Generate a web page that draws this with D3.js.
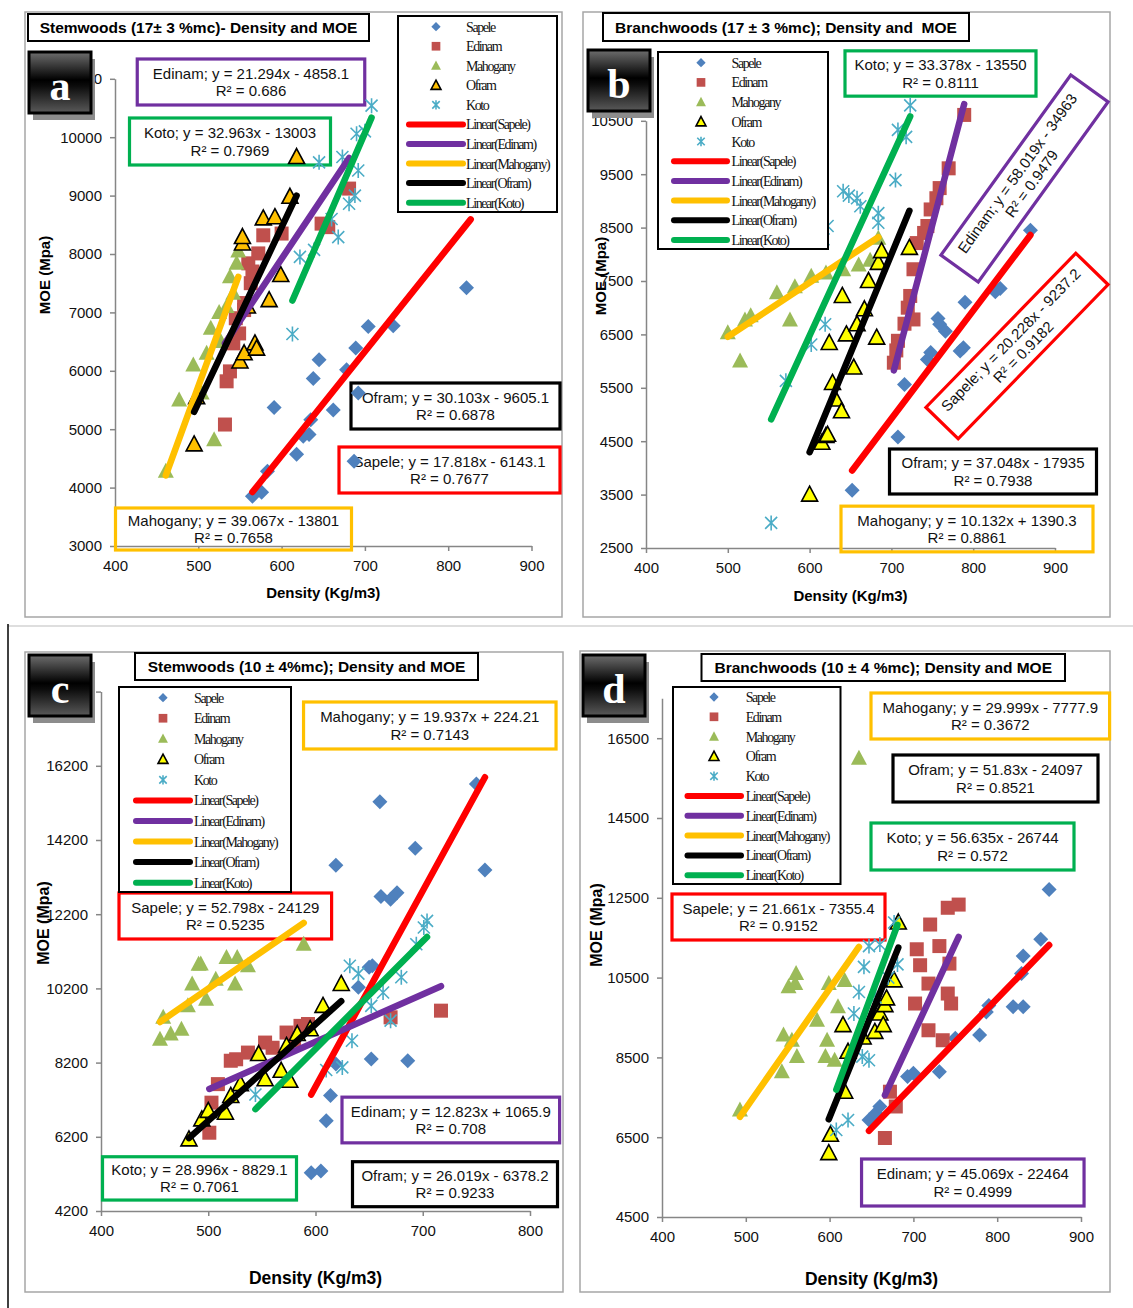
<!DOCTYPE html>
<html>
<head>
<meta charset="utf-8">
<title>Density and MOE</title>
<script src="https://d3js.org/d3.v7.min.js"></script>
<style>
  body { margin: 0; background: #fff; }
  svg { display: block; font-family: "Liberation Sans", Arial, sans-serif; }
  .pre { white-space: pre; }
</style>
</head>
<body>
<svg id="chart" width="1133" height="1308"></svg>
<script>
var species = ["Sapele", "Edinam", "Mahogany", "Ofram", "Koto"];

// a : stemwoods, 17 +- 3 %mc
var aSapele = [[565,3850],[576,3920],[583,4280],[591,5370],[618,4570],[626,4880],[633,4910],[635,5160],[638,5870],[645,6190],[662,5330],[678,6020],[687,4450],[689,6390],[692,5620],[704,6760],[734,6770],[822,7420],[827,10210]];
var aEdinam = [[532,5080],[534,5820],[538,5990],[542,6470],[545,6900],[549,6640],[555,7040],[555,7160],[560,7840],[563,7500],[565,7700],[572,8010],[578,8320],[600,8350],[648,8520],[656,8460],[681,9120]];
var aMahogany = [[461,4280],[477,5500],[494,6100],[504,5620],[510,6300],[515,6730],[519,4820],[525,7000],[527,6500],[534,7100],[538,7610],[542,7330],[546,7840],[548,8050]];
var aOfram = [[495,4740],[498,5550],[550,6160],[555,6300],[568,6470],[570,6380],[559,7100],[585,7210],[599,7640],[553,8180],[553,8290],[578,8610],[592,8630],[610,8980],[618,9660]];
var aKoto = [[613,6630],[622,7950],[639,8070],[645,9570],[660,8600],[668,8290],[673,9660],[681,8860],[688,9000],[690,10060],[692,9430],[700,10100],[708,10540]];
var aSlope = [17.818, 21.294, 39.067, 30.103, 32.963];
var aIntercept = [-6143.1, -4858.1, -13801, -9605.1, -13003];
var aR2 = [0.7677, 0.686, 0.7658, 0.6878, 0.7969];
var aXTicks = [400, 500, 600, 700, 800, 900];
var aYTicks = [3000, 4000, 5000, 6000, 7000, 8000, 9000, 10000, 11000];

// b : branchwoods, 17 +- 3 %mc
var bSapele = [[652,3580],[708,4580],[716,5560],[744,6030],[748,6160],[757,6800],[759,6690],[766,6560],[784,6190],[788,6250],[790,7100],[827,7300],[833,7360],[870,8450]];
var bEdinam = [[703,5970],[706,6200],[708,6380],[716,6700],[727,6780],[720,7000],[723,7220],[727,7720],[731,8210],[740,8400],[744,8530],[748,8840],[755,9050],[759,9240],[770,9610],[789,10610]];
var bMahogany = [[500,6530],[515,6000],[521,6770],[528,6850],[560,7280],[576,6770],[582,7390],[602,7590],[620,7650],[641,7710],[660,7800],[674,7890],[684,8300]];
var bOfram = [[600,3500],[615,4470],[620,4600],[622,4620],[632,5280],[628,5590],[639,5060],[654,5880],[624,6340],[645,6500],[658,6690],[667,6970],[682,6440],[640,7220],[672,7500],[684,7840],[688,8060],[722,8120]];
var bKoto = [[553,2970],[571,5630],[602,6310],[619,6690],[617,8280],[622,8530],[641,9180],[648,9100],[658,9050],[662,8900],[684,8770],[684,8590],[705,9390],[708,10330],[718,10200],[723,10790]];
var bSlope = [20.228, 58.019, 10.132, 37.048, 33.378];
var bIntercept = [-9237.2, -34963, 1390.3, -17935, -13550];
var bR2 = [0.9182, 0.9479, 0.8861, 0.7938, 0.8111];
var bXTicks = [400, 500, 600, 700, 800, 900];
var bYTicks = [2500, 3500, 4500, 5500, 6500, 7500, 8500, 9500, 10500];

// c : stemwoods, 10 +- 4 %mc
var cSapele = [[596,5230],[605,5280],[610,6630],[614,7310],[619,8160],[619,13520],[640,10230],[650,10770],[652,8300],[653,10810],[660,15230],[661,12680],[670,12600],[676,12780],[686,8250],[693,13980],[750,15710],[758,13390]];
var cEdinam = [[501,6310],[503,7120],[509,7620],[521,8250],[526,8290],[537,8470],[553,8740],[560,8600],[573,9010],[580,8800],[586,9190],[593,9240],[670,9420],[717,9600]];
var cMahogany = [[455,8830],[458,9420],[465,8970],[475,9100],[481,9730],[485,10320],[491,10850],[493,10860],[498,9910],[507,10450],[517,11030],[525,10320],[527,11030],[537,10810],[589,11390]];
var cOfram = [[482,6130],[494,6670],[500,6900],[516,6850],[521,7300],[530,7620],[547,8430],[553,7750],[568,7980],[576,7710],[573,8650],[583,8970],[595,9100],[607,9730],[624,10320]];
var cKoto = [[544,7340],[610,8000],[625,8070],[634,8790],[632,10810],[640,10600],[652,9730],[663,10090],[670,9330],[680,10500],[694,11390],[701,11840],[704,12020]];
var cSlope = [52.798, 12.823, 19.937, 26.019, 28.996];
var cIntercept = [-24129, 1065.9, 224.21, -6378.2, -8829.1];
var cR2 = [0.5235, 0.708, 0.7143, 0.9233, 0.7061];
var cXTicks = [400, 500, 600, 700, 800];
var cYTicks = [4200, 6200, 8200, 10200, 12200, 14200, 16200, 18200];

// d : branchwoods, 10 +- 4 %mc
var dSapele = [[647,6930],[655,7100],[660,7270],[693,8020],[700,8100],[731,8140],[750,8980],[779,9060],[787,9640],[790,9800],[819,9770],[829,10600],[831,9770],[831,11040],[852,11460],[862,12710]];
var dEdinam = [[666,6480],[672,7640],[679,7270],[702,9850],[704,11210],[708,10810],[718,10350],[718,9180],[720,11830],[731,11290],[735,8930],[741,10100],[741,12250],[743,10850],[745,9850],[754,12330]];
var dMahogany = [[493,7180],[543,8140],[545,9060],[555,8930],[561,8520],[551,10270],[559,10350],[560,10600],[585,9430],[597,8930],[595,8520],[599,10350],[606,8430],[610,9770],[618,10430],[635,16000]];
var dOfram = [[599,6100],[601,6560],[618,7640],[616,9310],[622,8640],[640,9000],[654,9140],[660,9600],[664,9310],[666,9810],[668,9980],[677,10430],[682,11880]];
var dKoto = [[608,6680],[622,6930],[629,9600],[635,10140],[639,8520],[641,10770],[647,8430],[647,11290],[655,10000],[660,11330],[670,10500],[677,11880],[681,10830]];
var dSlope = [21.661, 45.069, 29.999, 51.83, 56.635];
var dIntercept = [-7355.4, -22464, -7777.9, -24097, -26744];
var dR2 = [0.9152, 0.4999, 0.3672, 0.8521, 0.572];
var dXTicks = [400, 500, 600, 700, 800, 900];
var dYTicks = [4500, 6500, 8500, 10500, 12500, 14500, 16500];

var titles = ["Stemwoods (17\u00b1 3 %mc)- Density and MOE",
              "Branchwoods (17 \u00b1 3 %mc); Density and  MOE",
              "Stemwoods (10 \u00b1 4%mc); Density and MOE",
              "Branchwoods (10 \u00b1 4 %mc); Density and MOE"];

var markerFill = ["#4F81BD", "#C0504D", "#9BBB59", "#FFFF00", "#4BACC6"];
var lineColor = ["#FF0000", "#7030A0", "#FFC000", "#000000", "#00B050"];

// layout: where each panel sits on the page
var panels = [
  { letter: "a", data: [aSapele, aEdinam, aMahogany, aOfram, aKoto], slope: aSlope, icpt: aIntercept, r2: aR2,
    xTicks: aXTicks, yTicks: aYTicks, xDom: [400, 900], yDom: [3000, 11000],
    xr: [115, 531.5], yr: [546, 78.8], frame: [25, 12, 562, 617], ofram: "#FFC000",
    title: [28, 14, 369, 41], badge: [29, 52], legend: [398, 16, 557, 212, 26.7, 19.55, 436, 409, 463, 466],
    xTitleY: 597.5, yTitleX: 44.5, yTitleY: 275, axFont: 15, yAxFont: 15,
    boxes: [[449.5, 470, 221, 46, 0], [251, 82, 227.5, 46, 0], [233.5, 529, 236, 42, 0], [455.5, 406, 209, 46, 0], [230, 141.5, 201, 47, 0]] },
  { letter: "b", data: [bSapele, bEdinam, bMahogany, bOfram, bKoto], slope: bSlope, icpt: bIntercept, r2: bR2,
    xTicks: bXTicks, yTicks: bYTicks, xDom: [400, 900], yDom: [2500, 10500],
    xr: [646, 1055], yr: [548, 120.8], frame: [583, 12, 1110, 617], ofram: "#FFFF00",
    title: [603, 13, 969, 41], badge: [588, 50], legend: [658, 52, 828, 249, 62.7, 19.7, 701, 674, 727, 731.5],
    xTitleY: 600.5, yTitleX: 601, yTitleY: 276, axFont: 15, yAxFont: 15,
    boxes: [[1017, 346, 215, 45, -45.8], [1024.5, 178.5, 222, 46, -54.2], [967, 529, 252, 45.7, 0], [993, 471.5, 207, 45, 0], [940.5, 73.5, 191, 45.3, 0]] },
  { letter: "c", data: [cSapele, cEdinam, cMahogany, cOfram, cKoto], slope: cSlope, icpt: cIntercept, r2: cR2,
    xTicks: cXTicks, yTicks: cYTicks, xDom: [400, 800], yDom: [4200, 18200],
    xr: [101, 530], yr: [1211, 691.6], frame: [25, 652, 563, 1292], ofram: "#FFFF00",
    title: [135, 653, 478, 680], badge: [29, 655], legend: [119, 687, 291, 892, 697.7, 20.55, 163, 136, 190, 194],
    xTitleY: 1284, yTitleX: 44, yTitleY: 923, axFont: 17.5, yAxFont: 16,
    boxes: [[225.3, 916, 212.6, 46, 0], [450.8, 1120, 217.6, 45.7, 0], [429.8, 725.5, 252.5, 47, 0], [455, 1184.2, 205, 45, 0], [199.5, 1178.4, 194, 43.3, 0]] },
  { letter: "d", data: [dSapele, dEdinam, dMahogany, dOfram, dKoto], slope: dSlope, icpt: dIntercept, r2: dR2,
    xTicks: dXTicks, yTicks: dYTicks, xDom: [400, 900], yDom: [4500, 17500],
    xr: [662, 1081], yr: [1217, 698.3], frame: [580, 651, 1110, 1292], ofram: "#FFFF00",
    title: [701.5, 654, 1065, 681], badge: [583, 655], legend: [673, 687, 840.5, 884, 697, 19.8, 714, 687.5, 741, 745.7],
    xTitleY: 1285, yTitleX: 597, yTitleY: 925, axFont: 17.5, yAxFont: 16,
    boxes: [[778.5, 917, 213, 46, 0], [972.8, 1182.5, 222.5, 47, 0], [990.3, 716, 238.6, 46, 0], [995.5, 778.5, 205, 47, 0], [972.5, 846.5, 203, 47, 0]] }
];

var svg = d3.select("#chart");

var defs = svg.append("defs");
var grad = defs.append("linearGradient").attr("id", "badgeGrad")
  .attr("x1", 0).attr("y1", 0).attr("x2", 0).attr("y2", 1);
grad.append("stop").attr("offset", "0%").attr("stop-color", "#6e6e6e");
grad.append("stop").attr("offset", "46%").attr("stop-color", "#000");
grad.append("stop").attr("offset", "56%").attr("stop-color", "#0c0c0c");
grad.append("stop").attr("offset", "100%").attr("stop-color", "#5a5a5a");

// page lines around the lower half
svg.append("line").attr("x1", 8).attr("x2", 1133).attr("y1", 626).attr("y2", 626)
  .attr("stroke", "#bdbdbd").attr("stroke-width", 1);
svg.append("line").attr("x1", 8).attr("x2", 8).attr("y1", 624).attr("y2", 1308)
  .attr("stroke", "#000").attr("stroke-width", 1.5);

function marker(g, i, cx, cy, s, ofram) {
  if (i === 0) {
    g.append("path").attr("d", "M0,-7.5L7.5,0L0,7.5L-7.5,0Z")
      .attr("transform", "translate(" + cx + "," + cy + ") scale(" + s + ")").attr("fill", markerFill[0]);
  } else if (i === 1) {
    g.append("rect").attr("x", cx - 7 * s).attr("y", cy - 7 * s).attr("width", 14 * s).attr("height", 14 * s)
      .attr("fill", markerFill[1]);
  } else if (i === 2) {
    g.append("path").attr("d", "M0,-8.5L8,6.5L-8,6.5Z")
      .attr("transform", "translate(" + cx + "," + cy + ") scale(" + s + ")").attr("fill", markerFill[2]);
  } else if (i === 3) {
    g.append("path").attr("d", "M0,-8.5L8,6.5L-8,6.5Z")
      .attr("transform", "translate(" + cx + "," + cy + ") scale(" + s + ")")
      .attr("fill", ofram).attr("stroke", "#000").attr("stroke-width", 1.6 / s).attr("stroke-linejoin", "miter");
  } else {
    var r = 7.5 * s;
    var d = "M0," + (-r) + "L0," + r + "M" + (-r * 0.8) + "," + (-r * 0.8) + "L" + (r * 0.8) + "," + (r * 0.8) +
            "M" + (r * 0.8) + "," + (-r * 0.8) + "L" + (-r * 0.8) + "," + (r * 0.8);
    g.append("path").attr("d", d).attr("transform", "translate(" + cx + "," + cy + ")")
      .attr("fill", "none").attr("stroke", markerFill[4]).attr("stroke-width", 1.6);
  }
}

function eqText(name, slope, icpt) {
  return name + "; y = " + slope + "x " + (icpt < 0 ? "- " : "+ ") + Math.abs(icpt);
}

panels.forEach(function(p, pi) {
  var g = svg.append("g");
  var f = p.frame;
  g.append("rect").attr("x", f[0]).attr("y", f[1]).attr("width", f[2] - f[0]).attr("height", f[3] - f[1])
    .attr("fill", "#fff").attr("stroke", "#a6a6a6").attr("stroke-width", 1.5);

  var x = d3.scaleLinear().domain(p.xDom).range(p.xr);
  var y = d3.scaleLinear().domain(p.yDom).range(p.yr);

  var xAxis = g.append("g").attr("transform", "translate(0," + p.yr[0] + ")")
    .call(d3.axisBottom(x).tickValues(p.xTicks).tickFormat(d3.format("d"))
      .tickSize(5).tickSizeOuter(0).tickPadding(9.5));
  var yAxis = g.append("g").attr("transform", "translate(" + p.xr[0] + ",0)")
    .call(d3.axisLeft(y).tickValues(p.yTicks).tickFormat(d3.format("d"))
      .tickSize(5).tickSizeOuter(0).tickPadding(8));
  [xAxis, yAxis].forEach(function(ax) {
    ax.select(".domain").attr("stroke", "#868686").attr("stroke-width", 1.5);
    ax.selectAll(".tick line").attr("stroke", "#868686").attr("stroke-width", 1.5);
    ax.selectAll(".tick text").attr("font-size", 15).attr("fill", "#111")
      .attr("font-family", "'Liberation Sans', Arial, sans-serif");
  });

  // axis titles
  g.append("text").attr("x", (p.xr[0] + p.xr[1]) / 2).attr("y", p.xTitleY).attr("text-anchor", "middle")
    .attr("font-weight", "bold").attr("font-size", p.axFont).text("Density (Kg/m3)");
  g.append("text").attr("transform", "translate(" + (p.yTitleX + 5) + "," + p.yTitleY + ") rotate(-90)")
    .attr("text-anchor", "middle").attr("font-weight", "bold").attr("font-size", p.yAxFont).text("MOE (Mpa)");

  // regression boxes
  p.boxes.forEach(function(b, i) {
    var bg = g.append("g").attr("transform", "translate(" + b[0] + "," + b[1] + ") rotate(" + b[4] + ")");
    bg.append("rect").attr("x", -b[2] / 2).attr("y", -b[3] / 2).attr("width", b[2]).attr("height", b[3])
      .attr("fill", "none").attr("stroke", lineColor[i]).attr("stroke-width", 3.2);
    bg.append("text").attr("text-anchor", "middle").attr("y", -3.5).attr("font-size", 15).attr("fill", "#111")
      .text(eqText(species[i], p.slope[i], p.icpt[i]));
    bg.append("text").attr("text-anchor", "middle").attr("y", 14).attr("font-size", 15).attr("fill", "#111")
      .text("R\u00b2 = " + p.r2[i]);
  });

  // points
  p.data.forEach(function(pts, i) {
    var sg = g.append("g");
    pts.forEach(function(d) { marker(sg, i, x(d[0]), y(d[1]), 1, p.ofram); });
  });

  // linear trend lines across each series' density range
  p.data.forEach(function(pts, i) {
    var ext = d3.extent(pts, function(d) { return d[0]; });
    var line = d3.line().x(function(d) { return x(d); })
      .y(function(d) { return y(p.slope[i] * d + p.icpt[i]); });
    g.append("path").attr("d", line(ext)).attr("fill", "none").attr("stroke", lineColor[i])
      .attr("stroke-width", 6.5).attr("stroke-linecap", "round");
  });

  // legend
  var L = p.legend;
  g.append("rect").attr("x", L[0]).attr("y", L[1]).attr("width", L[2] - L[0]).attr("height", L[3] - L[1])
    .attr("fill", "#fff").attr("stroke", "#000").attr("stroke-width", 2);
  var names = species.concat(species.map(function(s) { return "Linear(" + s + ")"; }));
  names.forEach(function(n, k) {
    var cy = L[4] + k * L[5];
    if (k < 5) {
      marker(g, k, L[6], cy, 0.62, p.ofram);
    } else {
      g.append("line").attr("x1", L[7]).attr("x2", L[8]).attr("y1", cy).attr("y2", cy)
        .attr("stroke", lineColor[k - 5]).attr("stroke-width", 6).attr("stroke-linecap", "round");
    }
    g.append("text").attr("x", L[9]).attr("y", cy + 5).attr("font-family", "'Liberation Serif', 'Times New Roman', serif")
      .attr("font-size", 14).attr("letter-spacing", -1.4).attr("fill", "#111").text(n);
  });

  // title box
  var t = p.title;
  g.append("rect").attr("x", t[0]).attr("y", t[1]).attr("width", t[2] - t[0]).attr("height", t[3] - t[1])
    .attr("fill", "#fff").attr("stroke", "#000").attr("stroke-width", 2);
  g.append("text").attr("class", "pre").attr("x", (t[0] + t[2]) / 2).attr("y", (t[1] + t[3]) / 2 + 5.5)
    .attr("text-anchor", "middle").attr("font-weight", "bold").attr("font-size", 15.5)
    .text(titles[pi]);

  // letter badge
  var bx = p.badge[0], by = p.badge[1];
  g.append("rect").attr("x", bx + 4).attr("y", by + 7).attr("width", 62).attr("height", 61).attr("fill", "#8c8c8c");
  g.append("rect").attr("x", bx).attr("y", by).attr("width", 62).attr("height", 61)
    .attr("fill", "url(#badgeGrad)").attr("stroke", "#000").attr("stroke-width", 3);
  g.append("text").attr("x", bx + 31).attr("y", by + 48).attr("text-anchor", "middle")
    .attr("font-family", "'Liberation Serif', 'Times New Roman', serif").attr("font-weight", "bold")
    .attr("font-size", 42).attr("fill", "#fff").text(p.letter);
});
</script>
</body>
</html>
